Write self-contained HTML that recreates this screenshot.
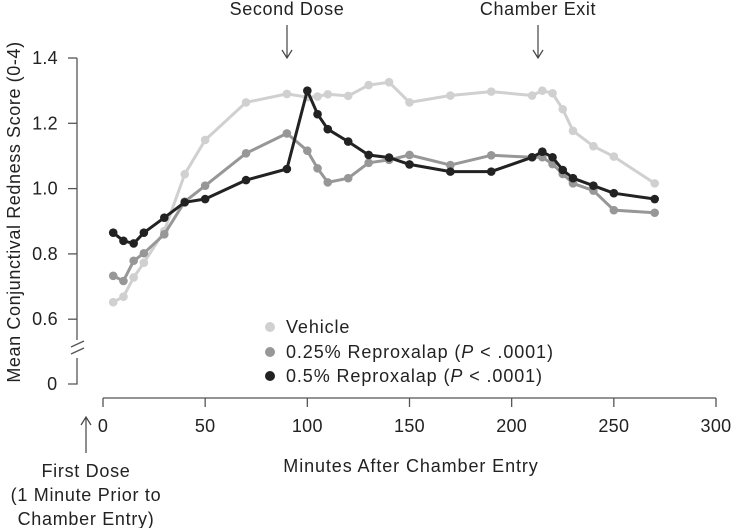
<!DOCTYPE html>
<html><head><meta charset="utf-8"><style>
body{margin:0;background:#fff;}
svg{display:block;font-family:"Liberation Sans",sans-serif;}
</style></head><body>
<svg id="chart" width="735" height="528" viewBox="0 0 735 528" xmlns="http://www.w3.org/2000/svg">
<g id="axes"></g>
<g id="series"></g>
<g id="annot"></g>
</svg>
<script>
const minutes = [5,10,15,20,30,40,50,70,90,100,105,110,120,130,140,150,170,190,210,215,220,225,230,240,250,270];
const vehicle = [0.652,0.669,0.728,0.773,0.87,1.044,1.149,1.264,1.290,1.28,1.282,1.289,1.284,1.317,1.326,1.264,1.285,1.297,1.285,1.300,1.292,1.243,1.177,1.130,1.098,1.016];
const repro025 = [0.733,0.717,0.779,0.802,0.860,0.96,1.009,1.108,1.169,1.116,1.062,1.019,1.032,1.079,1.088,1.103,1.072,1.102,1.096,1.096,1.075,1.045,1.016,0.994,0.934,0.926];
const repro05 = [0.865,0.840,0.832,0.865,0.911,0.958,0.968,1.026,1.060,1.300,1.228,1.182,1.144,1.103,1.095,1.074,1.052,1.052,1.096,1.113,1.096,1.057,1.032,1.009,0.986,0.968];
const xTicks = [0,50,100,150,200,250,300];
const yTicks = [0.6,0.8,1.0,1.2,1.4];
const seriesNames = ["Vehicle","0.25% Reproxalap","0.5% Reproxalap"];

const NS="http://www.w3.org/2000/svg";
const xS = v => 103 + v*(716-103)/300;
const yS = v => 58 + (1.4-v)*326.5;
function mk(tag, attrs, parent, text){
  const e=document.createElementNS(NS,tag);
  for(const k in attrs) e.setAttribute(k,attrs[k]);
  if(text!==undefined) e.textContent=text;
  parent.appendChild(e); return e;
}
const axes=document.getElementById('axes');
const ser=document.getElementById('series');
const ann=document.getElementById('annot');
const ax='#555';
const TXT={'font-size':18,'letter-spacing':0.9,fill:'#222'};
function T(attrs){return Object.assign({},TXT,attrs);}
let yl=mk('path',{d:`M77 ${yS(1.4)} V340 M77 358 V384 H68`,stroke:ax,'stroke-width':1.3,fill:'none'},axes);


let br=mk('path',{d:'M71 347 L84 341 M71 354 L84 348',stroke:ax,'stroke-width':1.3,fill:'none'},axes);


yTicks.forEach(t=>{
  const tk=mk('line',{x1:68,x2:77,y1:yS(t),y2:yS(t),stroke:ax,'stroke-width':1.3},axes);
  
  
  const lb=mk('text',T({x:58,y:yS(t)+6,'text-anchor':'end','letter-spacing':0.3}),axes,t.toFixed(1));
  
  
});
let z=mk('text',T({x:58,y:390,'text-anchor':'end'}),axes,'0');


let xl=mk('line',{x1:xS(0),x2:xS(300),y1:398,y2:398,stroke:ax,'stroke-width':1.3},axes);


xTicks.forEach(t=>{
  const tk=mk('line',{x1:xS(t),x2:xS(t),y1:398,y2:407,stroke:ax,'stroke-width':1.3},axes);
  
  
  const lb=mk('text',T({x:xS(t),y:432,'text-anchor':'middle','letter-spacing':0.3}),axes,String(t));
  
  
});
let xt=mk('text',T({x:411,y:472,'text-anchor':'middle'}),axes,'Minutes After Chamber Entry');


let yt=mk('text',T({x:0,y:0,transform:'translate(20,212) rotate(-90)','text-anchor':'middle','letter-spacing':0.6}),axes,'Mean Conjunctival Redness Score (0-4)');



const colors=['#d0d0d0','#979797','#222222'];
[vehicle,repro025,repro05].forEach((arr,i)=>{
  const g=mk('g',{},ser);
  
  
  const d=arr.map((v,j)=>(j?'L':'M')+xS(minutes[j]).toFixed(1)+' '+yS(v).toFixed(1)).join(' ');
  const p=mk('path',{d:d,stroke:colors[i],'stroke-width':3,fill:'none','stroke-linejoin':'round'},g);
  
  
  arr.forEach((v,j)=>{
    const c=mk('circle',{cx:xS(minutes[j]),cy:yS(v),r:4.3,fill:colors[i]},g);
    
    
  });
});
const legY=[327,352,376];
seriesNames.forEach((n,i)=>{
  const g=mk('g',{},ser);
  
  
  mk('circle',{cx:270,cy:legY[i],r:5,fill:colors[i]},g);
  const t=mk('text',T({x:286,y:legY[i]+6}),g);
  t.appendChild(document.createTextNode(n));
  if(i>0){
    t.appendChild(document.createTextNode(' ('));
    const it=document.createElementNS(NS,'tspan'); it.setAttribute('font-style','italic'); it.textContent='P'; t.appendChild(it);
    t.appendChild(document.createTextNode(' < .0001)'));
  }
});
function arrow(x,y1,y2,name){
  const g=mk('g',{},ann);
  
  
  const dir=y2>y1?-1:1;
  mk('path',{d:`M${x} ${y1} V${y2} M${x-5} ${y2+dir*8} L${x} ${y2} L${x+5} ${y2+dir*8}`,stroke:'#444','stroke-width':1.2,fill:'none'},g);
}
arrow(287,25,58,'second-dose-arrow');
arrow(538,25,58,'chamber-exit-arrow');
arrow(86,453,417,'first-dose-arrow');
let a1=mk('text',T({x:287,y:15,'text-anchor':'middle','letter-spacing':0.6}),ann,'Second Dose');


let a2=mk('text',T({x:538,y:15,'text-anchor':'middle','letter-spacing':0.6}),ann,'Chamber Exit');


['First Dose','(1 Minute Prior to','Chamber Entry)'].forEach((s,i)=>{
  const t=mk('text',T({x:86,y:477+i*24,'text-anchor':'middle','letter-spacing':0.7}),ann,s);
  
  
});
</script>
</body></html>
